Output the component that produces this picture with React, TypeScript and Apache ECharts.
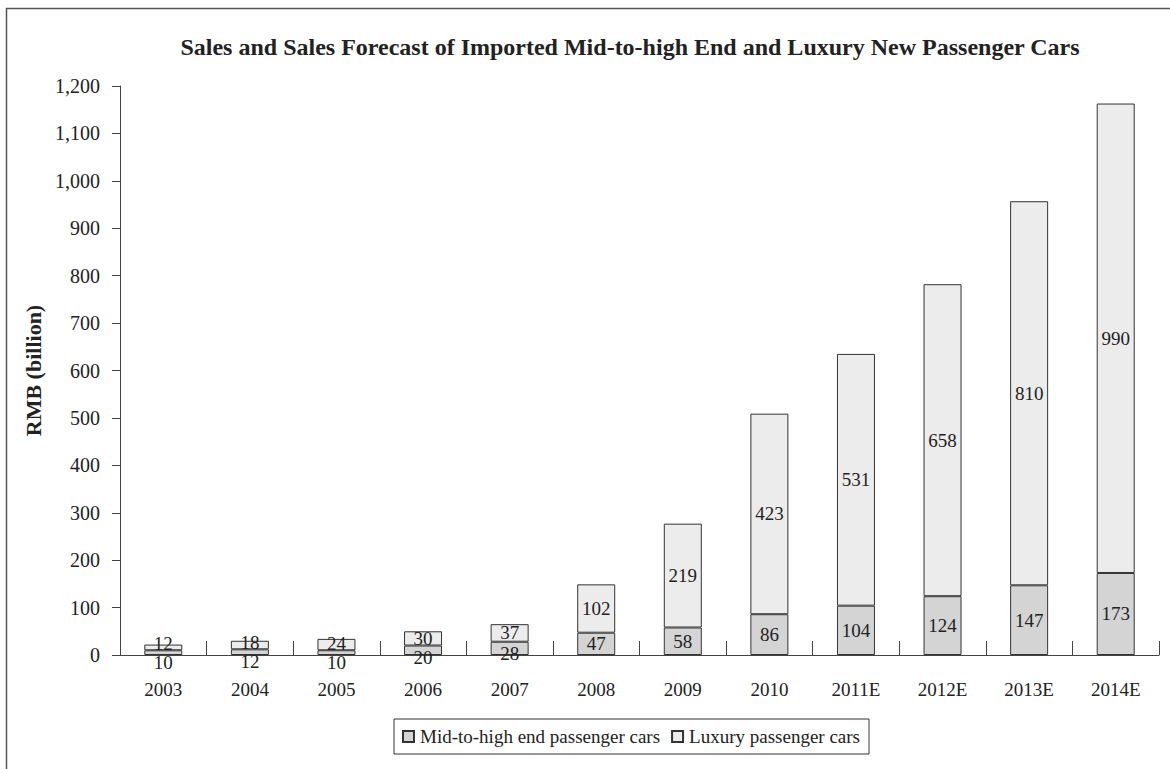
import React, { useEffect, useRef } from "react";
import * as echarts from "echarts";

const categories = ["2003", "2004", "2005", "2006", "2007", "2008", "2009", "2010", "2011E", "2012E", "2013E", "2014E"];
const midHigh = [10, 12, 10, 20, 28, 47, 58, 86, 104, 124, 147, 173];
const luxury = [12, 18, 24, 30, 37, 102, 219, 423, 531, 658, 810, 990];
const yTicks = { min: 0, max: 1200, interval: 100 };

const FONT = "'Liberation Serif', 'Times New Roman', serif";
const PX_PER_UNIT = 569 / 1200;

export default function App() {
  const ref = useRef<HTMLDivElement>(null);
  useEffect(() => {
    if (!ref.current) return;
    const chart = echarts.init(ref.current, undefined, { renderer: "svg" });
    const midData = midHigh.map((v) => {
      const h = v * PX_PER_UNIT;
      const off = Math.max(0, (14 - h) / 2 + 5);
      return { value: v, label: { offset: [0, h < 22 ? off : 0] } };
    });
    const luxData = luxury.map((v) => {
      const h = v * PX_PER_UNIT;
      const off = -Math.max(0, (14 - h) / 2);
      return { value: v, label: { offset: [0, off] } };
    });
    const labelStyle = { show: true, position: "inside", fontFamily: FONT, fontSize: 19, color: "#222" };
    chart.setOption({
      animation: false,
      backgroundColor: "#fff",
      textStyle: { fontFamily: FONT },
      title: {
        text: "Sales and Sales Forecast of Imported Mid-to-high End and Luxury New Passenger Cars",
        left: 630,
        top: 35,
        textAlign: "center",
        padding: 0,
        textStyle: { fontFamily: FONT, fontSize: 24, fontWeight: "bold", color: "#222" },
      },
      graphic: [
        {
          type: "rect",
          shape: { x: 6.5, y: 8.5, width: 1300, height: 900 },
          style: { fill: "none", stroke: "#555", lineWidth: 1.5 },
          silent: true,
        },
      ],
      legend: {
        left: 394,
        top: 719,
        orient: "horizontal",
        padding: [8, 9, 8, 8],
        borderColor: "#333",
        borderWidth: 1,
        itemWidth: 11,
        itemHeight: 11,
        itemGap: 11,
        icon: "rect",
        textStyle: { fontFamily: FONT, fontSize: 19, color: "#222", padding: [0, 0, 0, 1] },
        data: ["Mid-to-high end passenger cars", "Luxury passenger cars"],
      },
      grid: { left: 120, right: 11, top: 86, bottom: 114, containLabel: false },
      xAxis: {
        type: "category",
        data: categories,
        axisLine: { show: true, lineStyle: { color: "#444", width: 1 } },
        axisTick: { show: true, inside: true, length: 14, interval: 0, lineStyle: { color: "#444" } },
        axisLabel: { margin: 25, fontFamily: FONT, fontSize: 19, color: "#222", interval: 0 },
      },
      yAxis: {
        type: "value",
        min: yTicks.min,
        max: yTicks.max,
        interval: yTicks.interval,
        name: "RMB (billion)",
        nameLocation: "middle",
        nameGap: 72,
        nameTextStyle: { fontFamily: FONT, fontSize: 22, fontWeight: "bold", color: "#222" },
        axisLine: { show: true, lineStyle: { color: "#444", width: 1 } },
        axisTick: { show: true, inside: false, length: 8, lineStyle: { color: "#444" } },
        splitLine: { show: false },
        axisLabel: {
          margin: 20,
          fontFamily: FONT,
          fontSize: 20,
          color: "#222",
          formatter: (v: number) => v.toLocaleString("en-US"),
        },
      },
      series: [
        {
          name: "Mid-to-high end passenger cars",
          type: "bar",
          stack: "total",
          barWidth: 38,
          data: midData,
          itemStyle: { color: "#d4d4d4", borderColor: "#333", borderWidth: 1 },
          label: labelStyle,
        },
        {
          name: "Luxury passenger cars",
          type: "bar",
          stack: "total",
          barWidth: 38,
          data: luxData,
          itemStyle: { color: "#ececec", borderColor: "#333", borderWidth: 1 },
          label: labelStyle,
        },
      ],
    });
    return () => chart.dispose();
  }, []);
  return <div ref={ref} style={{ position: "absolute", left: 0, top: 0, width: 1170, height: 769 }} />;
}
